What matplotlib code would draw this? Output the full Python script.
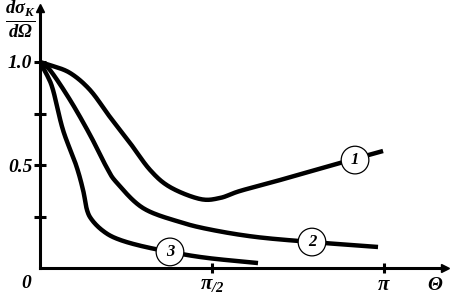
import numpy as np
import matplotlib
matplotlib.use("Agg")
import matplotlib.pyplot as plt

plt.rcParams['mathtext.fontset'] = 'custom'
plt.rcParams['mathtext.it'] = 'Liberation Serif:italic:bold'
plt.rcParams['mathtext.rm'] = 'Liberation Serif:italic:bold'
plt.rcParams['mathtext.bf'] = 'Liberation Serif:italic:bold'

# Curve data (theta in radians, normalized cross section)
theta1 = [0.0, 0.091, 0.274, 0.457, 0.639, 0.822, 1.005, 1.187, 1.461, 1.644, 1.827, 2.192, 2.740, 3.133]
y1 = [1.0, 0.985, 0.947, 0.864, 0.733, 0.607, 0.476, 0.393, 0.335, 0.340, 0.374, 0.427, 0.510, 0.568]

theta2 = [0.0, 0.091, 0.274, 0.457, 0.612, 0.703, 0.941, 1.279, 1.580, 1.982, 2.484, 3.087]
y2 = [1.0, 0.961, 0.816, 0.646, 0.485, 0.413, 0.291, 0.223, 0.184, 0.150, 0.126, 0.102]

theta3 = [0.0, 0.064, 0.119, 0.210, 0.329, 0.393, 0.429, 0.475, 0.566, 0.685, 0.886, 1.187, 1.525, 1.991]
y3 = [1.0, 0.937, 0.864, 0.670, 0.500, 0.379, 0.282, 0.233, 0.184, 0.146, 0.112, 0.078, 0.049, 0.024]

curve_labels = ["1", "2", "3"]
label_theta = [2.877, 2.484, 1.187]
label_y = [0.524, 0.126, 0.078]

ytick_vals = [0.25, 0.5, 0.75, 1.0]
ytick_labels = ["", "0.5", "", "1.0"]
xtick_vals = [np.pi / 2, np.pi]
xtick_labels = [r"$\pi_{/2}$", r"$\pi$"]


def smooth(xs, ys, n=20):
    """Catmull-Rom path through the read points (display only)."""
    P = np.column_stack([xs, ys]).astype(float)
    P = np.vstack([2 * P[0] - P[1], P, 2 * P[-1] - P[-2]])
    out = []
    for i in range(1, len(P) - 2):
        p0, p1, p2, p3 = P[i - 1], P[i], P[i + 1], P[i + 2]
        t = np.linspace(0, 1, n, endpoint=False)[:, None]
        seg = 0.5 * ((2 * p1) + (-p0 + p2) * t + (2 * p0 - 5 * p1 + 4 * p2 - p3) * t ** 2
                     + (-p0 + 3 * p1 - 3 * p2 + p3) * t ** 3)
        out.append(seg)
    out.append(P[-2][None, :])
    S = np.vstack(out)
    return S[:, 0], S[:, 1]


W, H = 451, 296
fig = plt.figure(figsize=(W / 100, H / 100), dpi=100)
x0, x_end, y0, y_top = 40, 445, 268, 8
ax = fig.add_axes([x0 / W, (H - y0) / H, (x_end - x0) / W, (y0 - y_top) / H])
ax.set_xlim(0, (x_end - x0) / 344 * np.pi)
ax.set_ylim(0, (y0 - y_top) / 206)

for sp in ['top', 'right']:
    ax.spines[sp].set_visible(False)
for sp in ['left', 'bottom']:
    ax.spines[sp].set_linewidth(2.2)

ax.plot(1, 0, ">k", ms=6, transform=ax.get_yaxis_transform(), clip_on=False)
ax.plot(0, 1, "^k", ms=6, transform=ax.get_xaxis_transform(), clip_on=False)

for t, y in [(theta1, y1), (theta2, y2), (theta3, y3)]:
    sx, sy = smooth(t, y)
    ax.plot(sx, sy, color='black', lw=3.2, solid_capstyle='butt', solid_joinstyle='round')

for lab, tx, ty in zip(curve_labels, label_theta, label_y):
    ax.text(tx, ty, lab, ha='center', va='center', fontsize=12,
            family='Liberation Serif', style='italic', weight='bold', zorder=5,
            bbox=dict(boxstyle='circle,pad=0.35', fc='white', ec='black', lw=0.9))

ax.set_yticks(ytick_vals)
ax.set_yticklabels(ytick_labels)
ax.set_xticks(xtick_vals)
ax.set_xticklabels(xtick_labels)
ax.tick_params(axis='y', direction='inout', length=9, width=2.2, labelsize=14, pad=1)
ax.tick_params(axis='x', direction='inout', length=7, width=2.2, labelsize=15, pad=1)
for lbl in ax.get_yticklabels():
    lbl.set_family('Liberation Serif'); lbl.set_style('italic'); lbl.set_weight('bold')

ax.text(-0.022, -0.025, "0", transform=ax.transAxes, ha='right', va='top', fontsize=14,
        family='Liberation Serif', style='italic', weight='bold')
ax.text(0.975, -0.025, r"$\Theta$", transform=ax.transAxes, ha='center', va='top', fontsize=14)
fig.text(20 / W, 1 - 20 / H, r"$\frac{d\sigma_K}{d\Omega}$", ha='center', va='center', fontsize=19)

fig.savefig("out.png", dpi=100)
